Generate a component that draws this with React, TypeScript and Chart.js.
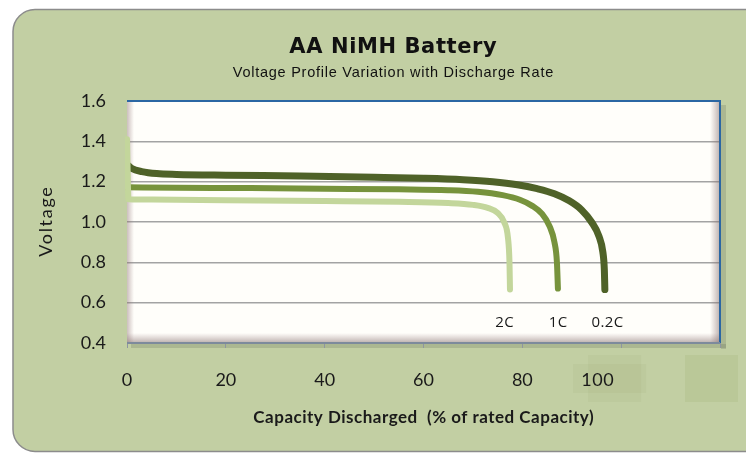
import React, { useEffect, useRef } from 'react';
import { Chart, registerables } from 'chart.js';

Chart.register(...registerables);

// ---- data ----
const seriesNames = ['2C', '1C', '0.2C'];

const cap2C = [0, 0.3, 5, 20, 40, 55, 65, 70, 73, 75, 76.3, 77.1, 77.4, 77.5];
const volt2C = [1.41, 1.113, 1.111, 1.108, 1.104, 1.1, 1.094, 1.085, 1.07, 1.045, 1.0, 0.92, 0.8, 0.665];

const cap1C = [0, 10, 25, 40, 55, 65, 71, 76, 79.5, 82, 84, 85.5, 86.5, 87, 87.2];
const volt1C = [1.172, 1.17, 1.168, 1.165, 1.162, 1.158, 1.15, 1.133, 1.11, 1.08, 1.04, 0.98, 0.9, 0.8, 0.67];

const cap02C = [0, 1, 3, 6, 10, 20, 35, 50, 60, 68, 74, 79, 83, 86.5, 89.5, 92, 94, 95.5, 96.3, 96.6, 96.7];
const volt02C = [1.285, 1.265, 1.25, 1.24, 1.236, 1.232, 1.228, 1.222, 1.217, 1.21, 1.2, 1.185, 1.165, 1.14, 1.105, 1.06, 1.0, 0.93, 0.85, 0.76, 0.665];

// where each series label sits (capacity, voltage)
const labelCaps = [76.4, 87.2, 97.2];
const labelVolt = 0.5;

const xTickValues = [0, 20, 40, 60, 80, 100, 120];
const yTickLabels = ['0.4', '0.6', '0.8', '1.0', '1.2', '1.4', '1.6'];

const titleText = 'AA NiMH Battery';
const subtitleText = 'Voltage Profile Variation with Discharge Rate';
const xTitle = 'Capacity Discharged  (% of rated Capacity)';
const yTitle = 'Voltage';

const colors = ['#c3d69b', '#77933c', '#4f6228'];
const widths = [6, 6, 7];

const toPts = (xs: number[], ys: number[]) => xs.map((x, i) => ({ x, y: ys[i] }));

function spacedText(ctx: CanvasRenderingContext2D, text: string, x: number, y: number, spacing: number) {
  (ctx as any).letterSpacing = spacing + 'px';
  const w = ctx.measureText(text).width;
  ctx.textAlign = 'left';
  ctx.fillText(text, x - (w - spacing) / 2, y);
  (ctx as any).letterSpacing = '0px';
}

const decorPlugin = {
  id: 'decor',
  beforeDraw(chart: any) {
    const ctx = chart.ctx as CanvasRenderingContext2D;
    const ca = chart.chartArea;
    ctx.save();
    ctx.fillStyle = '#ffffff';
    ctx.fillRect(0, 0, chart.width, chart.height);
    // outer rounded panel
    ctx.beginPath();
    (ctx as any).roundRect(13, 9.5, 770, 442, 22);
    ctx.fillStyle = '#c2cfa3';
    ctx.fill();
    ctx.lineWidth = 1.5;
    ctx.strokeStyle = '#8c8c8c';
    ctx.stroke();
    // drop shadow of plot
    ctx.fillStyle = 'rgba(90,100,80,0.22)';
    ctx.fillRect(ca.right + 1, ca.top + 4, 5, ca.bottom - ca.top + 2);
    ctx.fillRect(ca.left + 4, ca.bottom + 1, ca.right - ca.left + 2, 4);
    // plot fill
    ctx.fillStyle = '#fffefa';
    ctx.fillRect(ca.left, ca.top, ca.right - ca.left, ca.bottom - ca.top);
    // titles
    ctx.fillStyle = '#111111';
    ctx.textBaseline = 'alphabetic';
    ctx.font = 'bold 21px "DejaVu Sans"';
    spacedText(ctx, titleText, 393, 53, 0.6);
    ctx.font = '14.5px "Liberation Sans"';
    spacedText(ctx, subtitleText, 393, 77, 0.75);
    ctx.restore();
  },
  beforeDatasetsDraw(chart: any) {
    const ctx = chart.ctx as CanvasRenderingContext2D;
    const ca = chart.chartArea;
    ctx.save();
    let g = ctx.createLinearGradient(ca.right - 10, 0, ca.right, 0);
    g.addColorStop(0, 'rgba(150,120,120,0)');
    g.addColorStop(1, 'rgba(130,110,110,0.55)');
    ctx.fillStyle = g;
    ctx.fillRect(ca.right - 10, ca.top, 10, ca.bottom - ca.top);
    g = ctx.createLinearGradient(0, ca.bottom - 10, 0, ca.bottom);
    g.addColorStop(0, 'rgba(150,120,120,0)');
    g.addColorStop(1, 'rgba(130,110,110,0.55)');
    ctx.fillStyle = g;
    ctx.fillRect(ca.left, ca.bottom - 10, ca.right - ca.left, 10);
    g = ctx.createLinearGradient(ca.left, 0, ca.left + 7, 0);
    g.addColorStop(0, 'rgba(140,115,115,0.45)');
    g.addColorStop(1, 'rgba(150,120,120,0)');
    ctx.fillStyle = g;
    ctx.fillRect(ca.left, ca.top, 7, ca.bottom - ca.top);
    ctx.restore();
  },
  afterDraw(chart: any) {
    const ctx = chart.ctx as CanvasRenderingContext2D;
    const ca = chart.chartArea;
    const xs = chart.scales.x;
    const ys = chart.scales.y;
    ctx.save();
    // frame
    ctx.lineWidth = 2;
    ctx.strokeStyle = '#2b67a3';
    ctx.beginPath();
    ctx.moveTo(ca.left, ca.top);
    ctx.lineTo(ca.right, ca.top);
    ctx.lineTo(ca.right, ca.bottom);
    ctx.stroke();
    ctx.strokeStyle = '#7d8a9c';
    ctx.beginPath();
    ctx.moveTo(ca.right, ca.bottom);
    ctx.lineTo(ca.left, ca.bottom);
    ctx.stroke();

    // series labels
    ctx.fillStyle = '#1a1a1a';
    ctx.font = '15px "Open Sans"';
    ctx.textBaseline = 'middle';
    seriesNames.forEach((n, i) => {
      spacedText(ctx, n, xs.getPixelForValue(labelCaps[i]), ys.getPixelForValue(labelVolt), 0.4);
    });

    // faint patches near the right of the x axis
    const p100 = xs.getPixelForValue(100);
    const p120 = xs.getPixelForValue(120);
    ctx.fillStyle = 'rgba(140,160,95,0.09)';
    ctx.fillRect(p100 - 48, 364, 73, 29);
    ctx.fillRect(p100 - 33, 355, 53, 47);
    ctx.fillStyle = 'rgba(140,160,95,0.15)';
    ctx.fillRect(p120 - 35, 355, 53, 47);

    // "100" tick label (shifted like in the source)
    ctx.fillStyle = '#1a1a1a';
    ctx.font = '18px Lato';
    ctx.textBaseline = 'middle';
    spacedText(ctx, '100', xs.getPixelForValue(95.2), 380, 0.5);

    // axis titles
    ctx.font = 'bold 17px Lato';
    ctx.textBaseline = 'middle';
    spacedText(ctx, xTitle, (ca.left + ca.right) / 2, 418, 0.5);

    ctx.translate(46, (ca.top + ca.bottom) / 2);
    ctx.rotate(-Math.PI / 2);
    ctx.font = '18px Lato';
    spacedText(ctx, yTitle, 0, 0, 1.7);
    ctx.restore();
  },
};

export default function App() {
  const ref = useRef<HTMLCanvasElement | null>(null);
  useEffect(() => {
    if (!ref.current) return;
    const sets = [toPts(cap2C, volt2C), toPts(cap1C, volt1C), toPts(cap02C, volt02C)];
    const chart = new Chart(ref.current, {
      type: 'line',
      data: {
        datasets: sets.map((d, i) => ({
          label: seriesNames[i],
          data: d,
          borderColor: colors[i],
          backgroundColor: colors[i],
          borderWidth: widths[i],
          borderCapStyle: 'round' as const,
          borderJoinStyle: 'round' as const,
          pointRadius: 0,
          cubicInterpolationMode: 'monotone' as const,
          fill: false,
          clip: { left: 2, top: 8, right: 8, bottom: 8 },
        })),
      },
      options: {
        animation: false,
        responsive: false,
        maintainAspectRatio: false,
        devicePixelRatio: 1,
        layout: { padding: { left: 0, top: 101, right: 26, bottom: 0 } },
        plugins: {
          legend: { display: false },
          tooltip: { enabled: false },
          title: { display: false },
        },
        scales: {
          x: {
            type: 'linear',
            min: 0,
            max: 120,
            afterFit: (s: any) => {
              s.height = 111;
            },
            afterBuildTicks: (s: any) => {
              s.ticks = xTickValues.map((v) => ({ value: v }));
            },
            border: { display: false },
            grid: {
              display: true,
              drawOnChartArea: false,
              drawTicks: true,
              tickLength: 5,
              color: '#8f96a0',
              lineWidth: 1,
            },
            ticks: {
              padding: 21,
              color: '#1a1a1a',
              font: { family: 'Lato', size: 18 },
              maxRotation: 0,
              autoSkip: false,
              callback: (v: any) => (v >= 100 ? '' : String(v)),
            },
          },
          y: {
            type: 'linear',
            min: 0.4,
            max: 1.6,
            afterFit: (s: any) => {
              s.width = 127;
            },
            border: { display: false },
            grid: {
              color: '#a3a3a3',
              lineWidth: 1.5,
              drawTicks: false,
            },
            ticks: {
              stepSize: 0.2,
              padding: 21,
              color: '#1a1a1a',
              font: { family: 'Lato', size: 18 },
              callback: (v: any) => {
                const idx = Math.round((Number(v) - 0.4) / 0.2);
                return yTickLabels[idx] ?? '';
              },
            },
          },
        },
      },
      plugins: [decorPlugin],
    } as any);
    return () => chart.destroy();
  }, []);
  return (
    <div style={{ position: 'fixed', left: 0, top: 0, width: 746, height: 454 }}>
      <canvas ref={ref} width={746} height={454} style={{ display: 'block' }} />
    </div>
  );
}
